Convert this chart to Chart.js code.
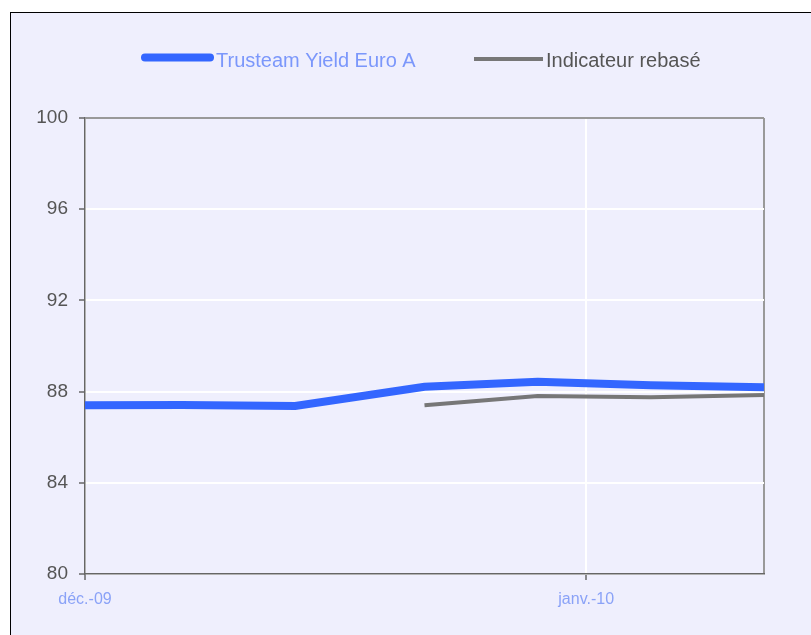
<!DOCTYPE html>
<html lang="fr">
<head>
    <meta charset="UTF-8">
    <title>Trusteam Yield Euro A</title>
    <script src="https://cdn.jsdelivr.net/npm/chart.js"></script>
    <style>
        html, body {
            margin: 0;
            padding: 0;
            background: #ffffff;
            overflow: hidden;
        }
        #frame {
            position: absolute;
            left: 10px;
            top: 12px;
            width: 900px;
            height: 700px;
            border: 1.5px solid #000;
            background: #efeffd;
        }
        #chart {
            position: absolute;
            left: 0;
            top: 0;
        }
    </style>
</head>
<body>
    <div id="frame"></div>
    <canvas id="chart" width="811" height="635"></canvas>

    <script>
        // dates des valeurs (hebdo)
        const dates = ['2009-12-01', '2009-12-07', '2009-12-14', '2009-12-22', '2009-12-29', '2010-01-05', '2010-01-12'];
        const fundValues = [87.40, 87.41, 87.37, 88.21, 88.43, 88.28, 88.19];
        const indexValues = [null, null, null, 87.40, 87.81, 87.75, 87.85];
        const monthLabels = ['déc.-09', 'janv.-10'];
        const monthDates = ['2009-12-01', '2010-01-01'];
        const yTicks = [80, 84, 88, 92, 96, 100];

        const start = Date.UTC(2009, 11, 1);
        function dayOf(s) {
            const [y, m, d] = s.split('-').map(Number);
            return Math.round((Date.UTC(y, m - 1, d) - start) / 86400000);
        }
        const days = dates.map(dayOf);
        const monthDays = monthDates.map(dayOf);
        const lastDay = days[days.length - 1];

        const fontFamily = '"Liberation Sans", Arial, sans-serif';

        // legende dessinee a la main pour coller a la mise en page
        const customLegend = {
            id: 'customLegend',
            afterDraw(chart) {
                const ctx = chart.ctx;
                const items = [
                    { x1: 145, x2: 210, y: 57.5, textX: 216, textColor: '#7b97fb' },
                    { x1: 474, x2: 543, y: 59, textX: 546, textColor: '#555555' }
                ];
                ctx.save();
                chart.data.datasets.forEach((ds, i) => {
                    const it = items[i];
                    ctx.beginPath();
                    ctx.strokeStyle = ds.borderColor;
                    ctx.lineWidth = ds.borderWidth;
                    ctx.lineCap = i === 0 ? 'round' : 'butt';
                    ctx.moveTo(it.x1, it.y);
                    ctx.lineTo(it.x2, it.y);
                    ctx.stroke();
                    ctx.fillStyle = it.textColor;
                    ctx.font = '20px ' + fontFamily;
                    ctx.textBaseline = 'alphabetic';
                    ctx.fillText(ds.label, it.textX, 67);
                });
                ctx.restore();
            }
        };

        new Chart(document.getElementById('chart'), {
            type: 'line',
            data: {
                datasets: [
                    {
                        label: 'Trusteam Yield Euro A',
                        data: days.map((d, i) => ({ x: d, y: fundValues[i] })),
                        borderColor: '#3366ff',
                        borderWidth: 8,
                        pointRadius: 0,
                        tension: 0,
                        fill: false
                    },
                    {
                        label: 'Indicateur rebasé',
                        data: days.map((d, i) => ({ x: d, y: indexValues[i] })),
                        borderColor: '#777777',
                        borderWidth: 4,
                        pointRadius: 0,
                        tension: 0,
                        fill: false
                    }
                ]
            },
            options: {
                responsive: false,
                animation: false,
                devicePixelRatio: 1,
                layout: { padding: { top: 118, right: 47, left: 0, bottom: 0 } },
                plugins: {
                    legend: { display: false },
                    tooltip: { enabled: false }
                },
                scales: {
                    x: {
                        type: 'linear',
                        min: 0,
                        max: lastDay,
                        afterBuildTicks: (scale) => {
                            scale.ticks = monthDays.map(v => ({ value: v })).concat([{ value: lastDay }]);
                        },
                        afterFit: (scale) => { scale.height = 61; },
                        ticks: {
                            autoSkip: false,
                            maxRotation: 0,
                            padding: 10,
                            color: '#8aa2f7',
                            font: { family: fontFamily, size: 16 },
                            callback: (v) => {
                                const i = monthDays.indexOf(v);
                                return i >= 0 ? monthLabels[i] : '';
                            }
                        },
                        grid: {
                            lineWidth: 2,
                            tickLength: 6,
                            color: (c) => c.tick && c.tick.value === lastDay ? '#999999' : '#ffffff',
                            tickColor: (c) => c.tick && c.tick.value === lastDay ? 'rgba(0,0,0,0)' : '#666666',
                            tickWidth: 1.5
                        },
                        border: { display: true, color: '#666666', width: 1.5 }
                    },
                    y: {
                        min: 80,
                        max: 100,
                        afterBuildTicks: (scale) => {
                            scale.ticks = yTicks.map(v => ({ value: v }));
                        },
                        afterFit: (scale) => { scale.width = 85; },
                        ticks: {
                            padding: 11,
                            color: '#555555',
                            font: { family: fontFamily, size: 19 }
                        },
                        grid: {
                            lineWidth: 2,
                            tickLength: 6,
                            color: (c) => c.tick && c.tick.value === 100 ? '#999999' : '#ffffff',
                            tickColor: '#666666',
                            tickWidth: 1.5
                        },
                        border: { display: true, color: '#666666', width: 1.5 }
                    }
                }
            },
            plugins: [customLegend]
        });
    </script>
</body>
</html>
